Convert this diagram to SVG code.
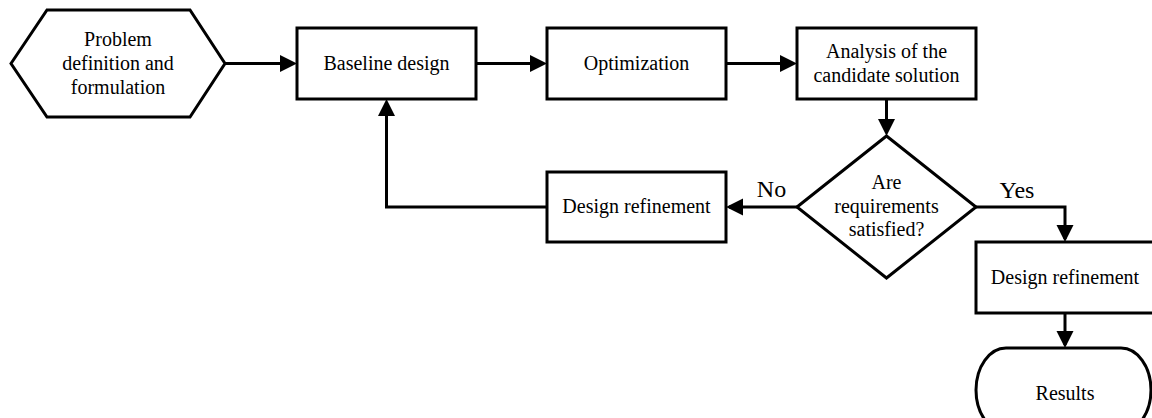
<svg xmlns="http://www.w3.org/2000/svg" width="1152" height="418" viewBox="0 0 1152 418">
<style>
.shape{fill:#fff;stroke:#000;stroke-width:3;stroke-linejoin:miter}
.lbl{font-family:"Liberation Serif","Times New Roman",serif;font-size:20px;fill:#000;text-anchor:middle}
.big{font-family:"Liberation Serif","Times New Roman",serif;font-size:24px;fill:#000;text-anchor:middle}
.conn{fill:none;stroke:#000;stroke-width:3}
</style>
<defs>
<marker id="arr" markerUnits="userSpaceOnUse" markerWidth="18" markerHeight="18" refX="14" refY="8.5" orient="auto">
<path d="M0,0 L17,8.5 L0,17 z" fill="#000"/>
</marker>
</defs>
<g id="connectors">
<line class="conn" x1="225" y1="63.5" x2="294" y2="63.5" marker-end="url(#arr)"/>
<line class="conn" x1="476" y1="63.5" x2="544" y2="63.5" marker-end="url(#arr)"/>
<line class="conn" x1="726" y1="63.5" x2="794" y2="63.5" marker-end="url(#arr)"/>
<line class="conn" x1="886.5" y1="99" x2="886.5" y2="133" marker-end="url(#arr)"/>
<line class="conn" x1="797" y1="207" x2="729" y2="207" marker-end="url(#arr)"/>
<polyline class="conn" points="547,207 386.5,207 386.5,102" marker-end="url(#arr)"/>
<polyline class="conn" points="976,207 1065,207 1065,239" marker-end="url(#arr)"/>
<line class="conn" x1="1065" y1="313" x2="1065" y2="345" marker-end="url(#arr)"/>
<text class="big" x="771.5" y="197">No</text>
<text class="big" x="1017" y="198">Yes</text>
</g>
<g id="problem">
<polygon class="shape" points="11,63.5 47,10 190,10 225,63.5 190,117 47,117"/>
<text class="lbl" x="118" y="46">Problem</text>
<text class="lbl" x="118" y="70">definition and</text>
<text class="lbl" x="118" y="94">formulation</text>
</g>
<g id="baseline">
<rect class="shape" x="297" y="28" width="179" height="71"/>
<text class="lbl" x="386.5" y="70">Baseline design</text>
</g>
<g id="optimization">
<rect class="shape" x="547" y="28" width="179" height="71"/>
<text class="lbl" x="636.5" y="70">Optimization</text>
</g>
<g id="analysis">
<rect class="shape" x="797" y="28" width="179" height="71"/>
<text class="lbl" x="886.5" y="58">Analysis of the</text>
<text class="lbl" x="886.5" y="82">candidate solution</text>
</g>
<g id="decision">
<polygon class="shape" points="797,207 886.5,136 976,207 886.5,278"/>
<text class="lbl" x="886.5" y="189">Are</text>
<text class="lbl" x="886.5" y="213">requirements</text>
<text class="lbl" x="886.5" y="236">satisfied?</text>
</g>
<g id="refine-left">
<rect class="shape" x="547" y="172" width="179" height="70"/>
<text class="lbl" x="636.5" y="213">Design refinement</text>
</g>
<g id="refine-right">
<rect class="shape" x="976" y="242" width="179" height="71"/>
<text class="lbl" x="1065" y="284">Design refinement</text>
</g>
<g id="results">
<rect class="shape" x="976" y="348" width="175" height="84" rx="30" ry="42"/>
<text class="lbl" x="1065" y="400">Results</text>
</g>
</svg>
